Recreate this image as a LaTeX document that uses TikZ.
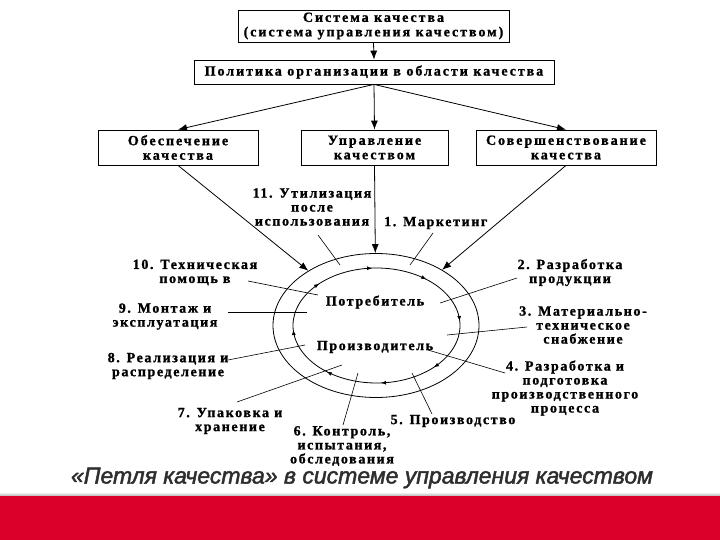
\documentclass[tikz,border=0pt]{standalone}
\usepackage{fontspec}
\setmainfont{Liberation Serif}
\newfontfamily\lbl[LetterSpace=11.5, FakeBold=1.2]{Liberation Serif Bold}
\newfontfamily\boxf[LetterSpace=14, FakeBold=1.2]{Liberation Serif Bold}
\newfontfamily\ttl[FakeBold=2]{Liberation Sans Italic}
\usetikzlibrary{arrows.meta,shapes.geometric,decorations.markings}
\definecolor{bandred}{RGB}{218,0,42}
\begin{document}
\begin{tikzpicture}[x=1pt,y=-1pt,
  box/.style={draw, line width=0.8pt, inner sep=0pt, align=center, font=\boxf\fontsize{14}{14.5}\selectfont},
  lab/.style={align=center, inner sep=0pt, font=\lbl\fontsize{14}{14}\selectfont},
  arr/.style={line width=0.8pt, -{Latex[length=9pt,width=7pt]}},
  spoke/.style={line width=0.6pt},
  ring/.style={line width=0.8pt},
  ttlstyle/.style={inner sep=0pt, text=black!82, font=\ttl\fontsize{23}{25}\selectfont}]
\useasboundingbox (0,0) rectangle (720,540);
\fill[white] (0,0) rectangle (720,540);

% boxes
\node[box, minimum width=271pt, minimum height=32pt] (sys) at (373.5,26) {Система качества\\(система управления качеством)};
\node[box, minimum width=360pt, minimum height=24pt] (pol) at (374,72) {Политика организации в области качества};
\node[box, minimum width=160pt, minimum height=35pt] (obs) at (178,147.5) {Обеспечение\\качества};
\node[box, minimum width=147pt, minimum height=35pt] (upr) at (374.5,147.5) {Управление\\качеством};
\node[box, minimum width=180pt, minimum height=35pt] (sov) at (566,147.5) {Совершенствование\\качества};

\draw[arr] (sys.south) -- (pol.north);
\draw[arr] (pol.south) -- (obs.north);
\draw[arr] (pol.south) -- (upr.north);
\draw[arr] (pol.south) -- (sov.north);

% loop
\node[draw, ring, ellipse, minimum width=206pt, minimum height=144pt, inner sep=0pt] (outer) at (376,325.5) {};
\coordinate (c) at (376.5,325.5);
\draw[ring, postaction={decorate}, decoration={markings,
  mark=at position 0.115 with {\arrow{Latex[length=5pt,width=4pt]}},
  mark=at position 0.24 with {\arrow{Latex[length=5pt,width=4pt]}},
  mark=at position 0.365 with {\arrow{Latex[length=5pt,width=4pt]}},
  mark=at position 0.49 with {\arrow{Latex[length=5pt,width=4pt]}},
  mark=at position 0.615 with {\arrow{Latex[length=5pt,width=4pt]}},
  mark=at position 0.74 with {\arrow{Latex[length=5pt,width=4pt]}},
  mark=at position 0.865 with {\arrow{Latex[length=5pt,width=4pt]}},
  mark=at position 0.99 with {\arrow{Latex[length=5pt,width=4pt]}}}]
  (c) ellipse [x radius=83.5, y radius=57.5];

\draw[arr] (obs.south) -- (outer);
\draw[arr] (upr.south) -- (outer);
\draw[arr] (sov.south) -- (outer);

\node[lab] (potr) at (375,302) {Потребитель};
\node[lab] (proizv) at (375,347) {Производитель};

% labels
\node[lab] (l11) at (312,207) {11. Утилизация\\после\\использования};
\node[lab, anchor=west] (l1) at (384,223) {1. Маркетинг};
\node[lab] (l2) at (570,272.5) {2. Разработка\\продукции};
\node[lab] (l3) at (583,325) {3. Материально-\\техническое\\снабжение};
\node[lab] (l4) at (565,388) {4. Разработка и\\подготовка\\производственного\\процесса};
\node[lab] (l5) at (453,421) {5. Производство};
\node[lab] (l6) at (342,446) {6. Контроль,\\испытания,\\обследования};
\node[lab] (l7) at (230,421) {7. Упаковка и\\хранение};
\node[lab] (l8) at (168,366) {8. Реализация и\\распределение};
\node[lab] (l9) at (165,316.5) {9. Монтаж и\\эксплуатация};
\node[lab] (l10) at (195,272.5) {10. Техническая\\помощь в};

% spokes
\coordinate (a11) at (318,235);  \coordinate (b11) at (340,265);
\coordinate (a1) at (433,233);   \coordinate (b1) at (410,265);
\coordinate (a2) at (517,278);   \coordinate (b2) at (440,303);
\coordinate (a3) at (527,327);   \coordinate (b3) at (447,335);
\coordinate (a4) at (505,373);   \coordinate (b4) at (428,350);
\coordinate (a5) at (432,414);   \coordinate (b5) at (412,373);
\coordinate (a6) at (343,425);   \coordinate (b6) at (358,373);
\coordinate (a7) at (237,402);   \coordinate (b7) at (342,365);
\coordinate (a8) at (228,360);   \coordinate (b8) at (305,345);
\coordinate (a9) at (228,312);   \coordinate (b9) at (307,312);
\coordinate (a10) at (248,281);  \coordinate (b10) at (318,295);
\foreach \i in {11,1,2,3,4,5,6,7,8,9,10} \draw[spoke] (a\i) -- (b\i);

% title
\node[ttlstyle] (title) at (362,478) {«Петля качества» в системе управления качеством};

% band
\shade[top color=white, bottom color=black!30] (0,492) rectangle (720,496);
\fill[bandred] (0,496) rectangle (720,540);
\end{tikzpicture}
\end{document}
